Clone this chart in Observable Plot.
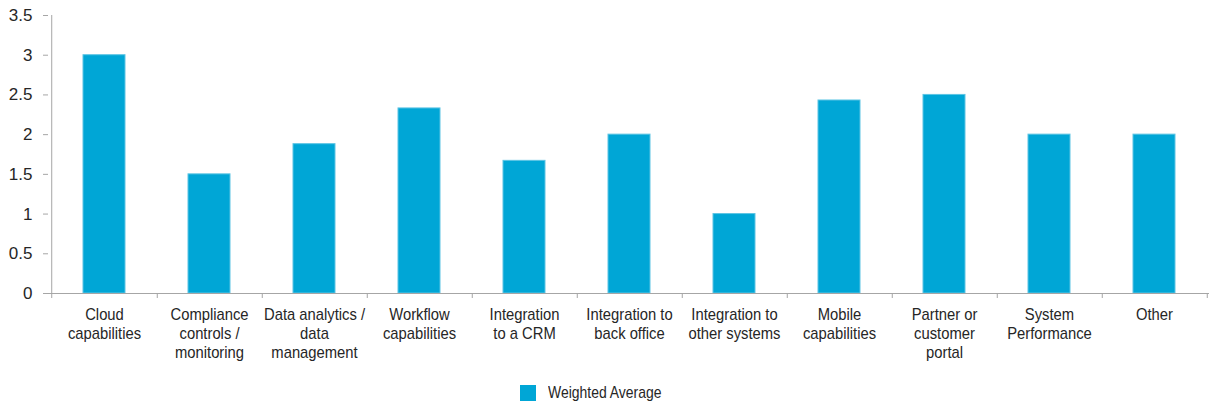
<!DOCTYPE html>
<html>
<head>
<meta charset="utf-8">
<script src="https://cdn.jsdelivr.net/npm/d3@7"></script>
<script src="https://cdn.jsdelivr.net/npm/@observablehq/plot@0.6"></script>
<style>
  html, body { margin: 0; padding: 0; background: #fff; }
  body { width: 1215px; height: 406px; overflow: hidden; font-family: "Liberation Sans", Arial, sans-serif; color: #262626; }
  #legend { display: flex; align-items: center; margin-left: 520px; margin-top: 15px; font-size: 17px; height: 16px; }
  #legend .sw { width: 16px; height: 16px; background: #00a6d6; margin-right: 12px; flex: none; }
  #legend span { display: inline-block; transform: scaleX(0.82); transform-origin: 0 50%; white-space: nowrap; }
</style>
</head>
<body>
<div id="chart"></div>
<div id="legend"><div class="sw"></div><span id="legend-label"></span></div>
<script>
const categories = [
  "Cloud\ncapabilities",
  "Compliance\ncontrols /\nmonitoring",
  "Data analytics /\ndata\nmanagement",
  "Workflow\ncapabilities",
  "Integration\nto a CRM",
  "Integration to\nback office",
  "Integration to\nother systems",
  "Mobile\ncapabilities",
  "Partner or\ncustomer\nportal",
  "System\nPerformance",
  "Other"
];
const weightedAverage = [3.0, 1.5, 1.88, 2.33, 1.67, 2.0, 1.0, 2.43, 2.5, 2.0, 2.0];
const yTicks = [0, 0.5, 1, 1.5, 2, 2.5, 3, 3.5];
const seriesName = "Weighted Average";

const data = categories.map((c, i) => ({category: c, value: weightedAverage[i]}));

const W = 1215, H = 370, mL = 48, mR = 6, mT = 15, mB = 77;
const step = (W - mL - mR) / categories.length;
const axisColor = "#a6a6a6";
const barColor = "#00a6d6";
const condense = 0.87;

const chart = Plot.plot({
  width: W,
  height: H,
  marginLeft: mL,
  marginRight: mR,
  marginTop: mT,
  marginBottom: mB,
  style: {fontFamily: '"Liberation Sans", Arial, sans-serif', fontSize: "17px", color: "#262626", background: "#fff"},
  x: {domain: categories, paddingInner: 0.6, paddingOuter: 0.3},
  y: {domain: [0, 3.5]},
  marks: [
    Plot.barY(data, {x: "category", y: "value", fill: barColor, stroke: "#5cc4e4", strokeWidth: 1}),
    Plot.ruleY([0], {stroke: axisColor, strokeWidth: 1}),
    Plot.ruleX([0], {x: () => categories[0], y1: 0, y2: 0, dx: -step / 2, insetBottom: -5, stroke: axisColor}),
    Plot.ruleX(categories, {x: d => d, y1: 0, y2: 0, dx: step / 2, insetBottom: -5, stroke: axisColor}),
    Plot.ruleX([0], {x: () => categories[0], y1: 0, y2: 3.5, dx: -step / 2, stroke: axisColor}),
    Plot.axisY({ticks: yTicks, tickSize: 5, tickPadding: 11, stroke: axisColor, fontSize: 17, label: null, tickFormat: d => String(d), color: "#262626"}),
    Plot.axisX({tickSize: 0, tickPadding: 13, fontSize: 17, lineHeight: 1.12, label: null})
  ]
});
document.getElementById("chart").appendChild(chart);
document.getElementById("legend-label").textContent = seriesName;

// condensed typeface look for category labels: scale horizontally about each label's anchor
chart.querySelectorAll('g[aria-label="x-axis tick label"] text').forEach(t => {
  const cx = +(t.getAttribute("x") || 0);
  const tr = t.getAttribute("transform") || "";
  t.setAttribute("transform", `${tr} translate(${cx},0) scale(${condense},1) translate(${-cx},0)`);
});
</script>
</body>
</html>
